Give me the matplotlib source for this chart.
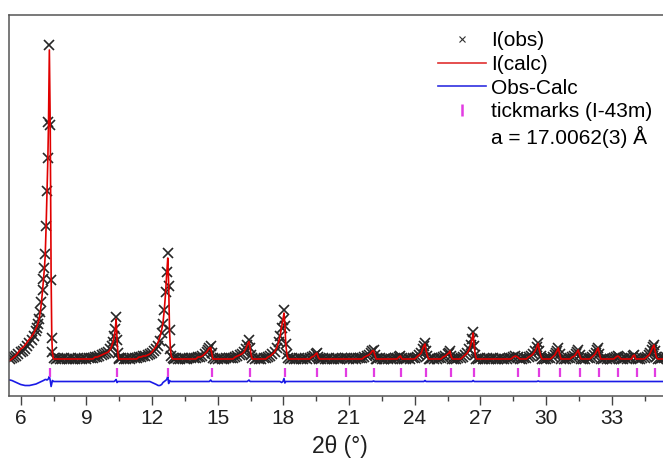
import matplotlib
matplotlib.use("Agg")
import matplotlib.pyplot as plt
from matplotlib.lines import Line2D
from matplotlib.ticker import MultipleLocator

plt.rcParams['font.family'] = ['Liberation Sans', 'DejaVu Sans']

two_theta = (
    # main (110) peak
    [5.5, 5.6, 5.7, 5.8, 5.9, 6.0, 6.1, 6.2, 6.3, 6.4, 6.5, 6.6, 6.7, 6.75, 6.8,
     6.85, 6.9, 6.95, 7.0, 7.04, 7.08, 7.12, 7.16, 7.2, 7.24, 7.27, 7.31, 7.35,
     7.39, 7.42, 7.45, 7.5]
    # (200)
    + [7.6, 7.7, 7.8, 7.9, 8.0, 8.1, 8.2, 8.3, 8.4, 8.5, 8.6, 8.7, 8.8, 8.9, 9.0,
       9.1, 9.2, 9.3, 9.4, 9.5, 9.6, 9.7, 9.8, 9.9, 10.0, 10.1, 10.16, 10.22,
       10.27, 10.32, 10.36, 10.4, 10.44, 10.48]
    # (211)
    + [10.5, 10.6, 10.7, 10.8, 10.9, 11.0, 11.1, 11.2, 11.3, 11.4, 11.5, 11.6,
       11.7, 11.8, 11.9, 12.0, 12.1, 12.2, 12.28, 12.36, 12.44, 12.5, 12.56,
       12.62, 12.67, 12.72, 12.76, 12.8, 12.84, 12.88, 12.94]
    # (220)
    + [13.0, 13.1, 13.2, 13.3, 13.4, 13.5, 13.6, 13.7, 13.8, 13.9, 14.0, 14.1,
       14.2, 14.3, 14.4, 14.5, 14.56, 14.62, 14.68, 14.73, 14.78]
    # (310)
    + [14.9, 15.0, 15.1, 15.2, 15.3, 15.4, 15.5, 15.6, 15.7, 15.8, 15.9, 16.0,
       16.1, 16.2, 16.28, 16.35, 16.43, 16.48, 16.53, 16.58]
    # (222)
    + [16.7, 16.8, 16.9, 17.0, 17.1, 17.2, 17.3, 17.4, 17.5, 17.6, 17.7, 17.78,
       17.85, 17.92, 17.98, 18.03, 18.07, 18.11, 18.16, 18.22]
    # (321)
    + [18.3, 18.4, 18.5, 18.6, 18.7, 18.8, 18.9, 19.0, 19.1, 19.2, 19.3, 19.4,
       19.47, 19.53, 19.59, 19.65]
    # (400), (411)
    + [19.7, 19.8, 19.9, 20.0, 20.1, 20.2, 20.3, 20.4, 20.5, 20.6, 20.7, 20.8,
       20.9, 21.0, 21.1, 21.2, 21.3, 21.4, 21.5, 21.6, 21.7, 21.8, 21.9, 22.0,
       22.06, 22.12, 22.18, 22.24]
    # (420)
    + [22.3, 22.4, 22.5, 22.6, 22.7, 22.8, 22.9, 23.0, 23.1, 23.2, 23.28, 23.35,
       23.42, 23.5]
    # (332)
    + [23.6, 23.7, 23.8, 23.9, 24.0, 24.1, 24.2, 24.3, 24.36, 24.42, 24.47,
       24.52, 24.58, 24.64]
    # (422)
    + [24.7, 24.8, 24.9, 25.0, 25.1, 25.2, 25.3, 25.4, 25.5, 25.56, 25.61,
       25.66, 25.72]
    # (431)
    + [25.8, 25.9, 26.0, 26.1, 26.2, 26.3, 26.4, 26.5, 26.56, 26.62, 26.67,
       26.72, 26.77, 26.82]
    # (521)
    + [26.9, 27.0, 27.1, 27.2, 27.3, 27.4, 27.5, 27.6, 27.7, 27.8, 27.9, 28.0,
       28.1, 28.2, 28.3, 28.4, 28.5, 28.6, 28.7, 28.8]
    # (440)
    + [28.9, 29.0, 29.1, 29.2, 29.3, 29.4, 29.5, 29.58, 29.64, 29.7, 29.76, 29.82]
    # (530)
    + [29.9, 30.0, 30.1, 30.2, 30.3, 30.4, 30.45, 30.5, 30.56, 30.62, 30.68]
    # (600)
    + [30.8, 30.9, 31.0, 31.1, 31.2, 31.3, 31.36, 31.42, 31.47, 31.53, 31.6]
    # (611)
    + [31.7, 31.8, 31.9, 32.0, 32.1, 32.2, 32.27, 32.33, 32.38, 32.44, 32.5]
    # (620), (541)
    + [32.6, 32.7, 32.8, 32.9, 33.0, 33.1, 33.2, 33.28, 33.35, 33.42, 33.5, 33.6,
       33.7, 33.8, 33.9, 33.97, 34.04, 34.1, 34.2, 34.3, 34.4]
    # (622) and the edge
    + [34.5, 34.6, 34.7, 34.76, 34.82, 34.88, 34.93, 34.98, 35.04, 35.1, 35.2,
       35.3, 35.4, 35.5, 35.6, 35.7]
)

i_obs = (
    [37, 38, 39, 40, 42, 44, 45, 47, 50, 53, 56, 60, 65, 68, 72,
     77, 84, 94, 106, 117, 128, 142, 170, 205, 238, 274, 351, 271,
     116, 58, 44, 38]
    + [37, 38, 37, 37, 38, 37, 37, 38, 37, 37, 38, 37, 37, 38, 37,
       38, 38, 38, 39, 39, 40, 41, 42, 43, 44, 47, 50, 54,
       60, 67, 79, 56, 43, 38]
    + [37, 38, 37, 37, 38, 37, 38, 38, 38, 39, 39, 40,
       40, 41, 42, 43, 45, 47, 50, 55, 63, 72, 86,
       104, 124, 143, 110, 66, 47, 40, 38]
    + [37, 38, 37, 37, 38, 37, 37, 38, 38, 38, 38, 39,
       39, 40, 42, 44, 46, 48, 50, 43, 38]
    + [37, 37, 38, 37, 37, 38, 38, 38, 38, 39, 40, 41,
       42, 44, 47, 51, 56, 48, 41, 38]
    + [37, 38, 37, 37, 38, 38, 39, 40, 42, 44, 48, 54,
       60, 68, 76, 86, 70, 52, 42, 38]
    + [37, 38, 37, 37, 38, 37, 37, 38, 37, 38, 39, 40,
       42, 43, 39, 37]
    + [37, 38, 37, 37, 38, 37, 37, 38, 37, 37, 38, 38,
       38, 37, 38, 37, 37, 38, 38, 38, 39, 40, 41, 43,
       45, 46, 41, 37]
    + [37, 38, 37, 37, 38, 37, 37, 37, 38, 38, 39, 40,
       38, 37]
    + [37, 38, 37, 38, 38, 39, 41, 43, 47, 50, 53,
       45, 40, 37]
    + [37, 38, 37, 37, 38, 38, 39, 40, 42, 43, 45,
       40, 37]
    + [37, 37, 38, 38, 39, 41, 43, 47, 51, 57, 64,
       50, 41, 37]
    + [37, 38, 37, 37, 38, 37, 37, 38, 37, 37, 38, 37,
       37, 37, 38, 38, 39, 40, 39, 37]
    + [37, 38, 38, 39, 40, 42, 45, 49, 53, 45, 40, 37]
    + [37, 37, 38, 38, 39, 41, 43, 45, 48, 42, 37]
    + [37, 37, 38, 38, 39, 40, 42, 44, 46, 41, 37]
    + [37, 37, 38, 38, 39, 41, 43, 46, 48, 42, 37]
    + [37, 38, 37, 37, 37, 38, 39, 40, 39, 37, 37, 38,
       37, 38, 38, 40, 41, 38, 37, 37, 38]
    + [38, 39, 41, 43, 46, 49, 51, 45, 39, 37, 37,
       38, 38, 39, 41, 44]
)

# obs - calc where it is not flat (all other points are 0)
diff_read = {
    5.5: 1.5, 5.6: 1, 5.8: -1, 5.9: -2, 6.0: -3, 6.1: -3.5, 6.2: -4, 6.3: -4,
    6.4: -4, 6.5: -3.5, 6.6: -3, 6.7: -2.5, 6.75: -2, 6.8: -1.5, 6.85: -1,
    6.9: -0.5, 7.0: 0.5, 7.04: 1, 7.08: 1.5, 7.12: 2, 7.16: 2, 7.2: 1.5,
    7.24: 2, 7.27: 3, 7.31: 5, 7.35: 1, 7.39: -5, 7.42: -2, 7.45: 1,
    10.32: 1, 10.36: 2, 10.4: -1,
    12.0: -1, 12.1: -2, 12.2: -3, 12.28: -4, 12.36: -4, 12.44: -3, 12.5: -1,
    12.62: 1, 12.67: 2, 12.72: 5, 12.76: -2, 12.8: 1,
    14.68: 1.5, 16.43: 1.5, 17.92: -1, 18.03: 3, 18.07: -1.5,
    22.12: 0.5, 24.47: 1, 26.67: 1, 29.64: 0.5,
}
diff_offset = 14.5
calc_background = 37

# Bragg positions, I-43m, a = 17.0062 A, Cu Ka
bragg_pos = [7.346, 10.40, 12.74, 14.72, 16.47, 18.06, 19.52, 20.88, 22.16,
             23.37, 24.53, 25.64, 26.71, 28.73, 29.69, 30.63, 31.54, 32.43,
             33.29, 34.14, 34.97, 35.78]
bragg_lo, bragg_hi = 19.5, 28.5

legend_labels = ["I(obs)", "I(calc)", "Obs-Calc", "tickmarks (I-43m)",
                 "a = 17.0062(3) \u00c5"]

diff = [diff_read.get(t, 0) for t in two_theta]
# calc follows obs, but stays on the flat background where obs is just noise
i_calc = [calc_background if (o <= 38 and d == 0) else o - d
          for o, d in zip(i_obs, diff)]
diff_line = [d + diff_offset for d in diff]

fig = plt.figure(figsize=(6.63, 4.66), dpi=100)
ax = fig.add_axes([9.3 / 663, 70 / 466, 661.5 / 663, 381 / 466])

ax.plot(two_theta, i_obs, ls='none', marker='x', ms=7.5, mew=1.2,
        color='#262626')
ax.plot(two_theta, i_calc, color='#e00000', lw=1.2)
ax.plot(two_theta, diff_line, color='#1a1ae6', lw=1.2)
ax.vlines(bragg_pos, bragg_lo, bragg_hi, color='#e23ce2', lw=1.6)

ax.set_xlim(5.48, 35.7)
ax.set_ylim(0, 381)
ax.xaxis.set_major_locator(MultipleLocator(3))
ax.xaxis.set_minor_locator(MultipleLocator(1.5))
ax.set_yticks([])
ax.tick_params(axis='x', which='major', direction='out', length=6.5,
               width=1.0, pad=3, labelsize=15, colors='#444444',
               labelcolor='#202020')
ax.tick_params(axis='x', which='minor', direction='out', length=3.6,
               width=1.0, colors='#444444')
for side in ('left', 'bottom', 'top'):
    ax.spines[side].set_color('#555555')
    ax.spines[side].set_linewidth(1.1)
ax.spines['right'].set_visible(False)

ax.set_xlabel("2\u03b8 (\u00b0)", fontsize=16.5, color='#202020', labelpad=5)

handles = [
    Line2D([], [], ls='none', marker='x', ms=5, mew=0.8, color='#303030'),
    Line2D([], [], color='#e03030', lw=1.2),
    Line2D([], [], color='#3030e0', lw=1.2),
    Line2D([], [], ls='none', marker='|', ms=8, mew=1.8, color='#e23ce2'),
    Line2D([], [], ls='none'),
]
ax.legend(handles, legend_labels, loc='upper left',
          bbox_to_anchor=(438 / 663, 1 - 31 / 466), bbox_transform=fig.transFigure,
          frameon=False, borderpad=0, borderaxespad=0, handlelength=2.3,
          handletextpad=0.25, labelspacing=0.23, fontsize=15, numpoints=1)

fig.savefig("out.png", dpi=100)
